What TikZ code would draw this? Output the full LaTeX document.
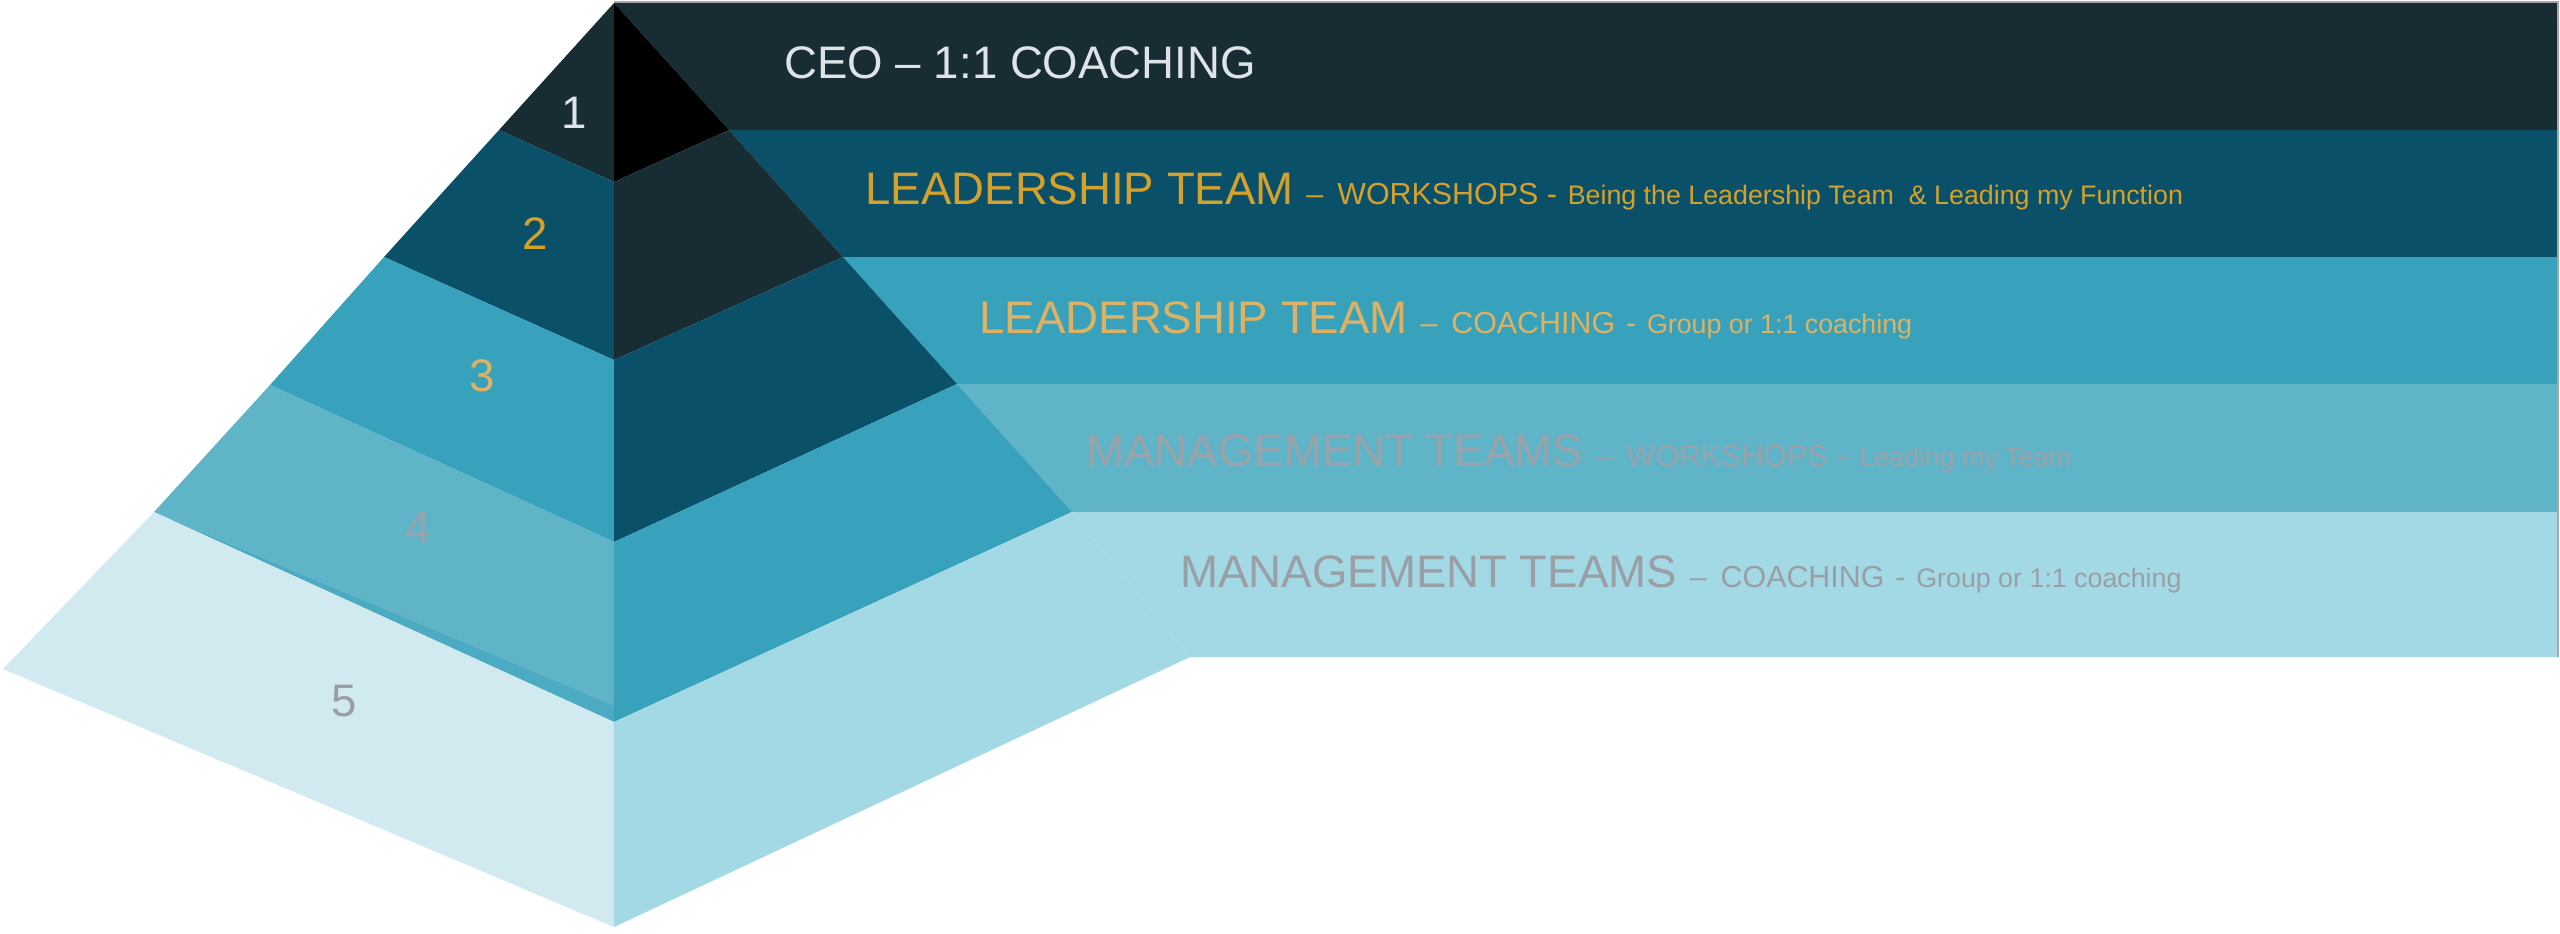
\documentclass[tikz,border=0pt]{standalone}
\usepackage{fontspec}
\setmainfont{Liberation Sans}

\definecolor{tierA}{RGB}{23,45,51}
\definecolor{tierB}{RGB}{11,80,105}
\definecolor{tierC}{RGB}{56,162,188}
\definecolor{tierD}{RGB}{96,180,200}
\definecolor{tierE}{RGB}{163,216,229}
\definecolor{tierEleft}{RGB}{209,234,240}
\definecolor{goldA}{RGB}{212,161,44}
\definecolor{goldB}{RGB}{222,178,98}
\definecolor{greyA}{RGB}{154,163,170}
\definecolor{greyB}{RGB}{154,159,166}
\definecolor{paleA}{RGB}{222,227,233}

\newcommand{\bigtxt}{\fontsize{11.4}{13}\selectfont}
\newcommand{\medtxt}{\fontsize{7.6}{9}\selectfont}
\newcommand{\smltxt}{\fontsize{6.7}{8}\selectfont}
\newcommand{\dashgap}{\hspace{1.4pt}}
\newcommand{\hyphgap}{\hspace{0.6pt}}

\tikzset{every picture/.style={line width=0.75pt}}
\tikzset{
  band text/.style={anchor=base west, inner sep=0pt},
  tier num/.style={inner sep=0pt, font=\bigtxt},
}

\begin{document}
\begin{tikzpicture}[x=0.25pt, y=0.25pt, yscale=-1, xscale=1]

    \useasboundingbox (0,0) rectangle (2560,933);

    % Band 1 - CEO
    \fill [tierA] (614,3) -- (2557,3) -- (2557,130) -- (729,130) -- cycle;

    % Band 2 - leadership workshops
    \fill [tierB] (729,130) -- (2557,130) -- (2557,257) -- (843,257) -- cycle;

    % Band 3 - leadership coaching
    \fill [tierC] (843,257) -- (2557,257) -- (2557,384) -- (957,384) -- cycle;

    % Band 4 - management workshops
    \fill [tierD] (957,384) -- (2557,384) -- (2557,512) -- (1072,512) -- cycle;

    % Band 5 - management coaching
    \fill [tierE] (1072,512) -- (2557,512) -- (2557,657) -- (1190,657) -- cycle;

    % Thin frame, top and right
    \draw [line width=0.35pt, black!35] (614,2) -- (2558,2) -- (2558,657);

    % Tier 1
    \fill [tierA] (614,3) -- (499,130) -- (614,182) -- cycle;
    \fill [black] (614,3) -- (729,130) -- (614,182) -- cycle;

    % Tier 2
    \fill [tierB] (499,130) -- (614,182) -- (614,360) -- (384,257) -- cycle;
    \fill [tierA] (614,182) -- (729,130) -- (843,257) -- (614,360) -- cycle;

    % Tier 3
    \fill [tierC] (384,257) -- (614,360) -- (614,542) -- (270,385) -- cycle;
    \fill [tierB] (614,360) -- (843,257) -- (957,384) -- (614,542) -- cycle;

    % Tier 4
    \fill [tierD] (270,385) -- (614,542) -- (614,705) -- (154,512) -- cycle;
    \fill [tierC!50!tierD] (154,512) -- (614,705) -- (614,722) -- cycle;
    \fill [tierC] (614,542) -- (957,384) -- (1072,512) -- (614,722) -- cycle;

    % Tier 5
    \fill [tierEleft] (154,512) -- (614,722) -- (614,927) -- (3,669) -- cycle;
    \fill [tierE] (614,722) -- (1072,512) -- (1190,657) -- (614,927) -- cycle;

    % Labels: tier numbers
    \node [tier num, text=paleA] (num1) at (574,113) {1};
    \node [tier num, text=goldA] (num2) at (535,234) {2};
    \node [tier num, text=goldB] (num3) at (482,376) {3};
    \node [tier num, text=greyA] (num4) at (418,528) {4};
    \node [tier num, text=greyB] (num5) at (344,701) {5};

    % Labels: bands
    \node [band text, text=paleA] (ceo) at (783,78.5)
          {\bigtxt CEO – 1:1 COACHING};
    \node [band text, text=goldA] (leadws) at (864,204)
          {\bigtxt LEADERSHIP TEAM \medtxt – \dashgap WORKSHOPS - \hyphgap\smltxt Being the Leadership Team \ \& Leading my Function};
    \node [band text, text=goldB] (leadco) at (978,333)
          {\bigtxt LEADERSHIP TEAM \medtxt – \dashgap COACHING \hyphgap- \hyphgap\smltxt Group or 1:1 coaching};
    \node [band text, text=greyA] (mgmtws) at (1085,466)
          {\bigtxt MANAGEMENT TEAMS \medtxt – \dashgap WORKSHOPS \hyphgap- \hyphgap\smltxt Leading my Team};
    \node [band text, text=greyB] (mgmtco) at (1179,587)
          {\bigtxt MANAGEMENT TEAMS \medtxt – \dashgap COACHING \hyphgap- \hyphgap\smltxt Group or 1:1 coaching};

\end{tikzpicture}
\end{document}
